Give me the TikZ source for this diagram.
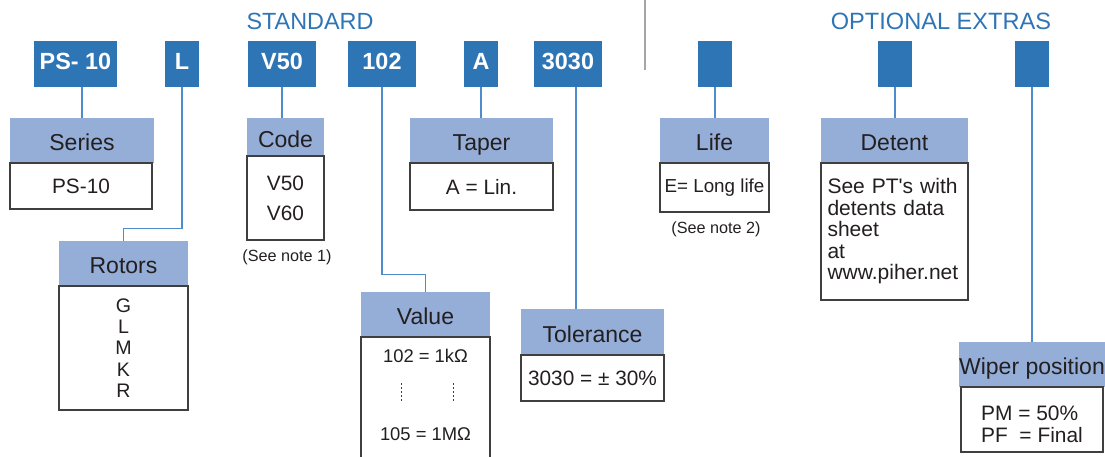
\documentclass[tikz,border=0pt]{standalone}
\usepackage{fontspec}
\setmainfont{Liberation Sans}
\definecolor{pscode}{HTML}{2E75B6}
\definecolor{pshead}{HTML}{95AED8}
\definecolor{psline}{HTML}{4F8CCB}
\definecolor{psframe}{HTML}{3F3F3F}
\definecolor{pstext}{HTML}{231F20}
\definecolor{psgray}{HTML}{A6A6A6}

\begin{document}
\begin{tikzpicture}[x=0.5pt, y=-0.5pt,
    code/.style={rectangle, fill=pscode, text=white, inner sep=0pt, minimum height=23pt,
        text height=8.4pt, text depth=2.5pt, font=\fontsize{11.7}{14}\selectfont\bfseries},
    head/.style={rectangle, fill=pshead, text=pstext, inner sep=0pt, minimum height=22.5pt,
        text height=10pt, text depth=0pt, font=\fontsize{11.5}{13}\selectfont},
    body/.style={rectangle, draw=psframe, line width=0.7pt, fill=white, text=pstext, inner sep=0pt,
        align=center, font=\fontsize{10.4}{12}\selectfont},
    link/.style={draw=psline, line width=0.7pt},
    note/.style={text=pstext, inner sep=0pt, font=\fontsize{8.1}{10}\selectfont}]
    \useasboundingbox (0,0) rectangle (1105,456);
    \clip (0,0) rectangle (1105,456);

    % Headings
    \node[text=pscode, inner sep=0pt, font=\fontsize{11.7}{14}\selectfont] (standard) at (310,21) {STANDARD};
    \node[text=pscode, inner sep=0pt, font=\fontsize{11.8}{14}\selectfont] (extras) at (941,21) {OPTIONAL EXTRAS};
    \draw[psgray, line width=0.8pt] (645,0) -- (645,70);

    % Code boxes
    \node[code, minimum width=41.5pt] (cseries) at (75.5,64) {PS- 10};
    \node[code, minimum width=17pt] (crotor) at (182,64) {L};
    \node[code, minimum width=34pt] (ccode) at (282,64) {V50};
    \node[code, minimum width=34pt] (cvalue) at (382,64) {102};
    \node[code, minimum width=17pt] (ctaper) at (481,64) {A};
    \node[code, minimum width=34pt] (ctol) at (568,64) {3030};
    \node[code, minimum width=17pt] (clife) at (715,64) {};
    \node[code, minimum width=17pt] (cdetent) at (895,64) {};
    \node[code, minimum width=17pt] (cwiper) at (1032,64) {};

    % Standard fields
    \node[head, minimum width=72pt] (series) at (82,140.5) {Series};
    \node[body, minimum width=71pt, minimum height=23pt] (seriesbody) at (81,186) {PS-10};

    \node[head, minimum width=38.5pt, minimum height=19pt] (code) at (285.5,137) {Code};
    \node[body, minimum width=38.5pt, minimum height=42pt, font=\fontsize{10.4}{15}\selectfont] (codebody) at (285.5,198)
        {V50\\V60};
    \node[note] (note1) at (287,257) {(See note 1)};

    \node[head, minimum width=64.5pt] (rotors) at (123.5,263.5) {Rotors};
    \node[body, minimum width=64.5pt, minimum height=62pt, font=\fontsize{9.8}{10.6}\selectfont] (rotorsbody) at (123.5,348)
        {G\\L\\M\\K\\R};

    \node[head, minimum width=71.5pt] (taper) at (481.5,140.5) {Taper};
    \node[body, minimum width=71.5pt, minimum height=23.5pt] (taperbody) at (481.5,186.5) {A = Lin.};

    \node[head, minimum width=64.5pt] (value) at (425.5,314.5) {Value};
    \node[body, minimum width=64.5pt, minimum height=66.5pt] (valuebody) at (425.5,403.5) {};
    \node[text=pstext, inner sep=0pt, font=\fontsize{9.2}{11}\selectfont] (valuelow) at (425.5,356) {102 = 1kΩ};
    \node[text=pstext, inner sep=0pt, font=\fontsize{9.2}{11}\selectfont] (valuehigh) at (425.5,434) {105 = 1MΩ};
    \draw[psframe, line width=0.5pt, dash pattern=on 1pt off 1pt] (401,383) -- (401,402);
    \draw[psframe, line width=0.5pt, dash pattern=on 1pt off 1pt] (453,383) -- (453,402);

    \node[head, minimum width=71.5pt, minimum height=23pt] (tolerance) at (592.5,332) {Tolerance};
    \node[body, minimum width=71.5pt, minimum height=23pt] (tolbody) at (592.5,378) {3030 = ± 30\%};

    % Optional extras
    \node[head, minimum width=54.5pt] (life) at (714.5,140.5) {Life};
    \node[body, minimum width=54.5pt, minimum height=24.5pt, font=\fontsize{9.4}{11}\selectfont] (lifebody) at (714.5,187.5)
        {E= Long life};
    \node[note] (note2) at (716,229) {(See note 2)};

    \node[head, minimum width=73.5pt] (detent) at (894.5,140.5) {Detent};
    \node[body, minimum width=73.5pt, minimum height=68.5pt, text width=67pt, align=left,
        font=\fontsize{10.5}{10.75}\selectfont] (detentbody) at (894.5,231.5)
        {See PT\textquotesingle s with\\detents data\\sheet\\at\\www.piher.net};

    \node[head, minimum width=71pt] (wiper) at (1032,364.5) {Wiper position};
    \node[body, minimum width=71pt, minimum height=32.5pt] (wiperbody) at (1032,419.5) {};
    \node[text=pstext, inner sep=0pt, align=left, font=\fontsize{10.45}{11}\selectfont] (wipertext)
        at (1032,424.5) {PM = 50\%\\PF\ \ = Final};

    % Connectors
    \draw[link] (cseries.south -| series.north) -- (series.north);
    \draw[link] (crotor.south) -- ++(0,141) -| (rotors.north);
    \draw[link] (ccode.south) -- (ccode.south |- code.north);
    \draw[link] (cvalue.south) -- ++(0,187) -| (value.north);
    \draw[link] (ctaper.south) -- (ctaper.south |- taper.north);
    \draw[link] ([xshift=4pt]ctol.south) -- ([xshift=4pt]ctol.south |- tolerance.north);
    \draw[link] (clife.south) -- (clife.south |- life.north);
    \draw[link] (cdetent.south) -- (cdetent.south |- detent.north);
    \draw[link] (cwiper.south) -- (wiper.north);
\end{tikzpicture}
\end{document}
